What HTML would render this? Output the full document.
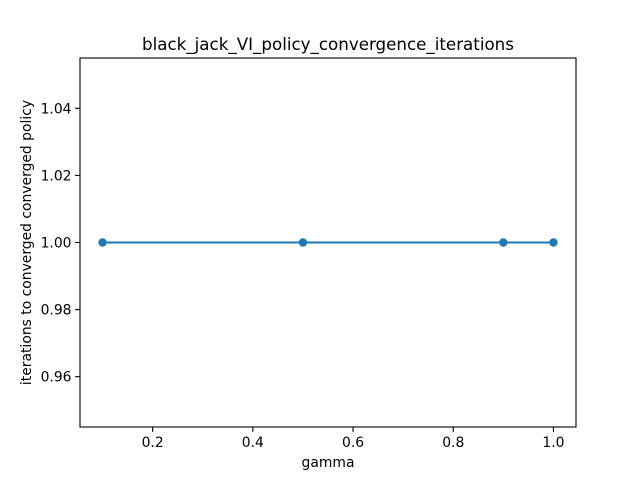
<!DOCTYPE html>
<html><head><meta charset="utf-8"><style>
body{margin:0;background:#fff;}
svg text{font-family:"DejaVu Sans","Liberation Sans",sans-serif;fill:#000;}
</style></head><body>
<svg id="chart" width="640" height="480" xmlns="http://www.w3.org/2000/svg">
<rect width="640" height="480" fill="#fff"/>
</svg>
<script>
const gammas = [0.1, 0.5, 0.9, 1.0];
const iterations = [1, 1, 1, 1];
const xTicks = [0.2, 0.4, 0.6, 0.8, 1.0];
const xTickLabels = ["0.2", "0.4", "0.6", "0.8", "1.0"];
const yTicks = [0.96, 0.98, 1.00, 1.02, 1.04];
const yTickLabels = ["0.96", "0.98", "1.00", "1.02", "1.04"];

const L=80,R=576,T=58,B=427;
const xmin=0.055,xmax=1.045,ymin=0.945,ymax=1.055;
const sx=v=>L+(v-xmin)/(xmax-xmin)*(R-L);
const sy=v=>B-(v-ymin)/(ymax-ymin)*(B-T);
const svg=document.getElementById('chart');
const NS='http://www.w3.org/2000/svg';
function mk(tag,attrs,parent){const e=document.createElementNS(NS,tag);for(const k in attrs)e.setAttribute(k,attrs[k]);(parent||svg).appendChild(e);return e;}

xTicks.forEach((t,i)=>{
  const x=sx(t);
  const tk=mk('line',{x1:x,x2:x,y1:B,y2:B+4.9,stroke:'#000','stroke-width':1.1});
  
  
  const tx=mk('text',{x:x,y:B+20,'font-size':13.9,'text-anchor':'middle'});
  tx.textContent=xTickLabels[i];
  
  
});
yTicks.forEach((t,i)=>{
  const y=sy(t);
  const tk=mk('line',{x1:L-4.9,x2:L,y1:y,y2:y,stroke:'#000','stroke-width':1.1});
  
  
  const tx=mk('text',{x:L-8.5,y:y+5,'font-size':13.9,'text-anchor':'end'});
  tx.textContent=yTickLabels[i];
  
  
});

const pts=gammas.map((g,i)=>sx(g)+','+sy(iterations[i])).join(' ');
const line=mk('polyline',{points:pts,fill:'none',stroke:'#1f77b4','stroke-width':2});


gammas.forEach((g,i)=>{
  const c=mk('circle',{cx:sx(g),cy:sy(iterations[i]),r:4.2,fill:'#1f77b4'});
  
  
});

const frame=mk('rect',{x:L,y:T,width:R-L,height:B-T,fill:'none',stroke:'#000','stroke-width':1.1});



const title=mk('text',{x:(L+R)/2,y:50,'font-size':16.7,'text-anchor':'middle'});
title.textContent='black_jack_VI_policy_convergence_iterations';


const xl=mk('text',{x:(L+R)/2,y:467,'font-size':13.9,'text-anchor':'middle'});
xl.textContent='gamma';


const yl=mk('text',{x:0,y:0,'font-size':13.9,'text-anchor':'middle',transform:`translate(31,${(T+B)/2}) rotate(-90)`});
yl.textContent='iterations to converged converged policy';


</script>
</body></html>
